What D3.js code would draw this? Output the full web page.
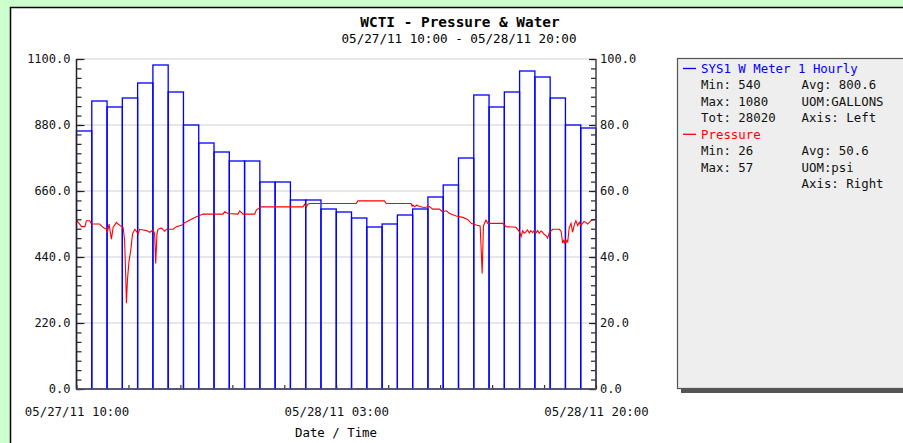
<!DOCTYPE html>
<html>
<head>
<meta charset="utf-8">
<script src="https://cdn.jsdelivr.net/npm/d3@7"></script>
<style>
  body { margin: 0; background: #ccffcc; }
  svg { display: block; }
  text { font-family: "DejaVu Sans Mono", "Liberation Mono", monospace; }
</style>
</head>
<body>
<div id="container"></div>
<script>
/* CONSTANTS AND GLOBALS */
const width = 903,
  height = 443,
  plot = { left: 76.5, right: 596, top: 59, bottom: 389 };

const chartTitle = "WCTI - Pressure & Water";
const chartSubtitle = "05/27/11 10:00 - 05/28/11 20:00";
const xAxisTitle = "Date / Time";

// hourly water readings, 05/27/11 10:00 .. 05/28/11 20:00
const waterGallons = [860, 960, 940, 970, 1020, 1080, 990, 880, 820, 790, 760, 760,
  690, 690, 630, 630, 600, 590, 570, 540, 550, 580, 600, 640, 680, 770, 980, 940,
  990, 1060, 1040, 970, 880, 870, 700];

// pressure samples: minutes after 05/27/11 10:00 and psi
const pressureMinutes = [0, 20, 33, 39, 52, 59, 91, 104, 118, 122, 128, 137, 144, 157, 163, 177,
  183, 189, 193, 196, 200, 206, 213, 220, 229, 242, 248, 262, 275, 288, 301, 307, 311, 316, 320,
  333, 346, 353, 379, 392, 412, 425, 445, 471, 497, 575, 582, 595, 634, 641, 654, 700, 706, 726,
  889, 896, 902, 909, 915, 1098, 1105, 1209, 1216, 1314, 1318, 1321, 1327, 1336, 1347, 1366, 1386,
  1399, 1425, 1438, 1452, 1465, 1491, 1517, 1536, 1550, 1569, 1585, 1589, 1593, 1598, 1608, 1615,
  1674, 1687, 1726, 1739, 1746, 1752, 1758, 1765, 1771, 1778, 1784, 1791, 1798, 1804, 1811, 1817,
  1824, 1830, 1837, 1844, 1850, 1857, 1870, 1896, 1903, 1909, 1912, 1916, 1919, 1922, 1926, 1929,
  1935, 1942, 1948, 1955, 1961, 1968, 1974, 1980, 1987, 1993, 2000, 2007, 2013, 2020, 2026, 2032, 2037];
const pressurePsi = [51.2, 49.2, 49.2, 51, 51, 50, 50, 49, 48.4, 47.7, 50, 45.4, 49, 50.5, 50, 49.2,
  49, 45, 35, 26, 33, 38.6, 42, 47, 48.4, 47, 48.4, 48.2, 48, 47.5, 48.2, 47, 38, 47, 48.4,
  48.8, 47.8, 48.4, 48.4, 49.2, 49.6, 50.4, 51.2, 52.2, 53, 53, 53.7, 53.2, 53, 54, 53, 53, 54.2, 55.2,
  55.2, 56, 55.2, 56, 56.2, 56.2, 57, 57, 56.2, 56.2, 55.4, 55.8, 55.2, 55.7, 55.3, 55, 55.3,
  54.5, 54.5, 53.7, 54, 53.2, 52.4, 52, 51.4, 50.2, 49.7, 49.4, 42.6, 35, 49.4, 51.2, 50.2,
  50.2, 49.2, 49, 47.7, 46.2, 48, 47.2, 47.6, 48.2, 47.3, 48, 47.4, 48.1, 47.3, 48, 47.2,
  47.9, 47.5, 46.8, 46.5, 45.7, 47.5, 48.4, 48.4, 47.8, 44.2, 45, 44.3, 45.1, 44.4, 45, 44.6,
  49, 50.2, 47.5, 49.8, 51, 49.5, 50.5, 49.6, 50.2, 50.8, 50.5, 50, 50.4, 51, 51.2, 51.4, 51.2];

const leftTicks = [0, 220, 440, 660, 880, 1100];
const rightTicks = [0, 20, 40, 60, 80, 100];

const waterLegend = [["Min: 540", "Avg: 800.6"], ["Max: 1080", "UOM:GALLONS"], ["Tot: 28020", "Axis: Left"]];
const pressureLegend = [["Min: 26", "Avg: 50.6"], ["Max: 57", "UOM:psi"], ["", "Axis: Right"]];

const start = new Date(2011, 4, 27, 10, 0);
const end = new Date(2011, 4, 28, 20, 0);
const hour = 3600000;

/* SCALES */
const xScale = d3.scaleTime().domain([start, end]).range([plot.left, plot.right]);
const yLeft = d3.scaleLinear().domain([0, 1100]).range([plot.bottom, plot.top]);
const yRight = d3.scaleLinear().domain([0, 100]).range([plot.bottom, plot.top]);

const svg = d3.select("#container")
  .append("svg")
  .attr("width", width)
  .attr("height", height);

// white panel with black frame
svg.append("rect")
  .attr("x", 10.5).attr("y", 7.5)
  .attr("width", 1000).attr("height", 500)
  .attr("fill", "#fff").attr("stroke", "#000").attr("stroke-width", 1.5);

// titles
svg.append("text")
  .attr("x", 460).attr("y", 27)
  .attr("text-anchor", "middle")
  .style("font-size", "14.4px").style("font-weight", "bold")
  .text(chartTitle);
svg.append("text")
  .attr("x", 459).attr("y", 43)
  .attr("text-anchor", "middle")
  .style("font-size", "12.6px")
  .text(chartSubtitle);

// gridlines
svg.append("g")
  .selectAll("line")
  .data(leftTicks.slice(1))
  .join("line")
  .attr("x1", plot.left).attr("x2", plot.right)
  .attr("y1", d => yLeft(d)).attr("y2", d => yLeft(d))
  .attr("stroke", "#d0d0d0").attr("stroke-width", 1.2);

// bars (the 20:00 reading falls on the end of the axis)
const waterData = waterGallons.map((v, i) => ({ t: new Date(start.getTime() + i * hour), v }));
svg.append("g")
  .selectAll("rect.bar")
  .data(waterData.filter(d => d.t < end))
  .join("rect")
  .attr("class", "bar")
  .attr("x", d => xScale(d.t))
  .attr("y", d => yLeft(d.v))
  .attr("width", d => xScale(new Date(d.t.getTime() + hour)) - xScale(d.t))
  .attr("height", d => yLeft(0) - yLeft(d.v))
  .attr("fill", "none")
  .attr("stroke", "#0000ff")
  .attr("stroke-width", 1.3);

// pressure line
const pressureData = pressureMinutes.map((m, i) => ({ t: new Date(start.getTime() + m * 60000), v: pressurePsi[i] }));
svg.append("path")
  .datum(pressureData)
  .attr("fill", "none")
  .attr("stroke", "#ff0000")
  .attr("stroke-width", 1.1)
  .attr("d", d3.line().x(d => xScale(d.t)).y(d => yRight(d.v)));

/* AXES */
const axisColor = "#222";
function styleAxis(g, color) {
  g.select(".domain").remove();
  g.selectAll("line").attr("stroke", color).attr("stroke-width", 1.2);
  g.selectAll("text").style("font-size", "12px").attr("fill", "#111")
    .style("font-family", "'DejaVu Sans Mono', monospace");
}

// left
const minorLeft = d3.range(0, 1100.1, 220 / 7);
svg.append("g").attr("transform", `translate(${plot.left},0)`)
  .call(d3.axisLeft(yLeft).tickValues(minorLeft).tickSize(-5).tickFormat(""))
  .call(g => styleAxis(g, axisColor));
svg.append("g").attr("transform", `translate(${plot.left},0)`)
  .call(d3.axisLeft(yLeft).tickValues(leftTicks).tickSize(-8).tickPadding(6).tickFormat(d3.format(".1f")))
  .call(g => styleAxis(g, axisColor));
svg.append("line")
  .attr("x1", plot.left).attr("x2", plot.left)
  .attr("y1", plot.top).attr("y2", plot.bottom)
  .attr("stroke", axisColor).attr("stroke-width", 1.5);

// right
const minorRight = d3.range(0, 100.01, 20 / 7);
svg.append("g").attr("transform", `translate(${plot.right},0)`)
  .call(d3.axisRight(yRight).tickValues(minorRight).tickSize(-5).tickFormat(""))
  .call(g => styleAxis(g, axisColor));
svg.append("g").attr("transform", `translate(${plot.right},0)`)
  .call(d3.axisRight(yRight).tickValues(rightTicks).tickSize(-7).tickPadding(4).tickFormat(d3.format(".1f")))
  .call(g => styleAxis(g, axisColor));
svg.append("line")
  .attr("x1", plot.right).attr("x2", plot.right)
  .attr("y1", plot.top).attr("y2", plot.bottom)
  .attr("stroke", "#444").attr("stroke-width", 1.5);

// bottom
const xTickDates = d3.range(0, 11).map(i => new Date(start.getTime() + (end - start) * i / 10));
svg.append("g").attr("transform", `translate(0,${plot.bottom})`)
  .call(d3.axisBottom(xScale).tickValues(xTickDates).tickSize(-4).tickFormat(""))
  .call(g => styleAxis(g, "#333"));
svg.append("g").attr("transform", `translate(0,${plot.bottom})`)
  .call(d3.axisBottom(xScale)
    .tickValues([start, new Date((start.getTime() + end.getTime()) / 2), end])
    .tickSize(0).tickPadding(18)
    .tickFormat(d3.timeFormat("%m/%d/%y %H:%M")))
  .call(g => styleAxis(g, "#333"))
  .call(g => g.selectAll("text").style("font-size", "12.4px"));
svg.append("line")
  .attr("x1", plot.left).attr("x2", plot.right)
  .attr("y1", plot.bottom).attr("y2", plot.bottom)
  .attr("stroke", "#555").attr("stroke-width", 1.5);

svg.append("text")
  .attr("x", 336).attr("y", 437)
  .attr("text-anchor", "middle")
  .style("font-size", "12.4px")
  .text(xAxisTitle);

/* LEGEND */
svg.append("rect")
  .attr("x", 681).attr("y", 63)
  .attr("width", 300).attr("height", 330)
  .attr("fill", "#555");
svg.append("rect")
  .attr("x", 677.5).attr("y", 58.5)
  .attr("width", 300).attr("height", 330)
  .attr("fill", "#eeeeee").attr("stroke", "#555").attr("stroke-width", 1.2);

const legend = svg.append("g").style("font-size", "12.4px");
const series = [
  { name: "SYS1 W Meter 1 Hourly", color: "#0000ff", rows: waterLegend },
  { name: "Pressure", color: "#ff0000", rows: pressureLegend }
];
let ly = 68.5;
const lineStep = 16.45;
series.forEach(s => {
  legend.append("line")
    .attr("x1", 683).attr("x2", 696)
    .attr("y1", ly).attr("y2", ly)
    .attr("stroke", s.color).attr("stroke-width", 1.3);
  legend.append("text")
    .attr("x", 701).attr("y", ly + 4.5)
    .attr("fill", s.color)
    .text(s.name);
  ly += lineStep;
  s.rows.forEach(r => {
    legend.append("text").attr("x", 701).attr("y", ly + 4.5).attr("fill", "#111").text(r[0]);
    legend.append("text").attr("x", 801.5).attr("y", ly + 4.5).attr("fill", "#111").text(r[1]);
    ly += lineStep;
  });
});
</script>
</body>
</html>
